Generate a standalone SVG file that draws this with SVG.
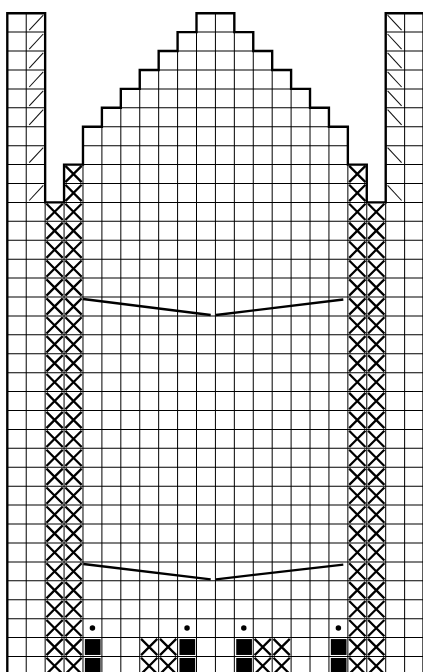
<svg xmlns="http://www.w3.org/2000/svg" xmlns:xlink="http://www.w3.org/1999/xlink" width="423" height="672" viewBox="0 0 423 672">
<style>
.grid{fill:none;stroke:#000;stroke-width:0.053}
.outline{fill:none;stroke:#000;stroke-width:0.125;stroke-linejoin:miter;stroke-linecap:square}
.diag{fill:none;stroke:#111;stroke-width:0.055}
.xs{fill:none;stroke:#000;stroke-width:0.12}
.sq{fill:#000}
.dot{fill:#000}
.conn{fill:none;stroke:#000;stroke-width:2.3;stroke-linecap:butt}
</style>
<defs>
<clipPath id="shapeClip">
<path d="M0,35V0H2V10H3V8H4V6H5V5H6V4H7V3H8V2H9V1H10V0H12V1H13V2H14V3H15V4H16V5H17V6H18V8H19V10H20V0H22V35Z"/>
</clipPath>
<path id="x" d="M0.07,0.07L0.93,0.93M0.93,0.07L0.07,0.93"/>
<path id="fs" d="M0.16,0.9L0.9,0.1"/>
<path id="bs" d="M0.1,0.1L0.84,0.9"/>
</defs>
<rect width="423" height="672" fill="#fff"/>
<g transform="translate(7.3,13.2) scale(18.92)">
<g id="grid" clip-path="url(#shapeClip)">
<path class="grid" d="M1,0V35M2,0V35M3,0V35M4,0V35M5,0V35M6,0V35M7,0V35M8,0V35M9,0V35M10,0V35M11,0V35M12,0V35M13,0V35M14,0V35M15,0V35M16,0V35M17,0V35M18,0V35M19,0V35M20,0V35M21,0V35M0,1H22M0,2H22M0,3H22M0,4H22M0,5H22M0,6H22M0,7H22M0,8H22M0,9H22M0,10H22M0,11H22M0,12H22M0,13H22M0,14H22M0,15H22M0,16H22M0,17H22M0,18H22M0,19H22M0,20H22M0,21H22M0,22H22M0,23H22M0,24H22M0,25H22M0,26H22M0,27H22M0,28H22M0,29H22M0,30H22M0,31H22M0,32H22M0,33H22M0,34H22"/>
</g>
<g id="left-tab-decreases" class="diag">
<use href="#fs" x="1" y="0"/><use href="#fs" x="1" y="1"/><use href="#fs" x="1" y="2"/><use href="#fs" x="1" y="3"/><use href="#fs" x="1" y="4"/><use href="#fs" x="1" y="5"/><use href="#fs" x="1" y="7"/><use href="#fs" x="1" y="9"/>
</g>
<g id="right-tab-decreases" class="diag">
<use href="#bs" x="20" y="0"/><use href="#bs" x="20" y="1"/><use href="#bs" x="20" y="2"/><use href="#bs" x="20" y="3"/><use href="#bs" x="20" y="4"/><use href="#bs" x="20" y="5"/><use href="#bs" x="20" y="7"/><use href="#bs" x="20" y="9"/>
</g>
<g id="left-x-column" class="xs">
<use href="#x" x="2" y="10"/><use href="#x" x="2" y="11"/><use href="#x" x="2" y="12"/><use href="#x" x="2" y="13"/><use href="#x" x="2" y="14"/><use href="#x" x="2" y="15"/><use href="#x" x="2" y="16"/><use href="#x" x="2" y="17"/><use href="#x" x="2" y="18"/><use href="#x" x="2" y="19"/><use href="#x" x="2" y="20"/><use href="#x" x="2" y="21"/><use href="#x" x="2" y="22"/><use href="#x" x="2" y="23"/><use href="#x" x="2" y="24"/><use href="#x" x="2" y="25"/><use href="#x" x="2" y="26"/><use href="#x" x="2" y="27"/><use href="#x" x="2" y="28"/><use href="#x" x="2" y="29"/><use href="#x" x="2" y="30"/><use href="#x" x="2" y="31"/><use href="#x" x="2" y="32"/><use href="#x" x="2" y="33"/><use href="#x" x="2" y="34"/>
<use href="#x" x="3" y="8"/><use href="#x" x="3" y="9"/><use href="#x" x="3" y="10"/><use href="#x" x="3" y="11"/><use href="#x" x="3" y="12"/><use href="#x" x="3" y="13"/><use href="#x" x="3" y="14"/><use href="#x" x="3" y="15"/><use href="#x" x="3" y="16"/><use href="#x" x="3" y="17"/><use href="#x" x="3" y="18"/><use href="#x" x="3" y="19"/><use href="#x" x="3" y="20"/><use href="#x" x="3" y="21"/><use href="#x" x="3" y="22"/><use href="#x" x="3" y="23"/><use href="#x" x="3" y="24"/><use href="#x" x="3" y="25"/><use href="#x" x="3" y="26"/><use href="#x" x="3" y="27"/><use href="#x" x="3" y="28"/><use href="#x" x="3" y="29"/><use href="#x" x="3" y="30"/><use href="#x" x="3" y="31"/><use href="#x" x="3" y="32"/><use href="#x" x="3" y="33"/><use href="#x" x="3" y="34"/>
</g>
<g id="right-x-column" class="xs">
<use href="#x" x="18" y="8"/><use href="#x" x="18" y="9"/><use href="#x" x="18" y="10"/><use href="#x" x="18" y="11"/><use href="#x" x="18" y="12"/><use href="#x" x="18" y="13"/><use href="#x" x="18" y="14"/><use href="#x" x="18" y="15"/><use href="#x" x="18" y="16"/><use href="#x" x="18" y="17"/><use href="#x" x="18" y="18"/><use href="#x" x="18" y="19"/><use href="#x" x="18" y="20"/><use href="#x" x="18" y="21"/><use href="#x" x="18" y="22"/><use href="#x" x="18" y="23"/><use href="#x" x="18" y="24"/><use href="#x" x="18" y="25"/><use href="#x" x="18" y="26"/><use href="#x" x="18" y="27"/><use href="#x" x="18" y="28"/><use href="#x" x="18" y="29"/><use href="#x" x="18" y="30"/><use href="#x" x="18" y="31"/><use href="#x" x="18" y="32"/><use href="#x" x="18" y="33"/><use href="#x" x="18" y="34"/>
<use href="#x" x="19" y="10"/><use href="#x" x="19" y="11"/><use href="#x" x="19" y="12"/><use href="#x" x="19" y="13"/><use href="#x" x="19" y="14"/><use href="#x" x="19" y="15"/><use href="#x" x="19" y="16"/><use href="#x" x="19" y="17"/><use href="#x" x="19" y="18"/><use href="#x" x="19" y="19"/><use href="#x" x="19" y="20"/><use href="#x" x="19" y="21"/><use href="#x" x="19" y="22"/><use href="#x" x="19" y="23"/><use href="#x" x="19" y="24"/><use href="#x" x="19" y="25"/><use href="#x" x="19" y="26"/><use href="#x" x="19" y="27"/><use href="#x" x="19" y="28"/><use href="#x" x="19" y="29"/><use href="#x" x="19" y="30"/><use href="#x" x="19" y="31"/><use href="#x" x="19" y="32"/><use href="#x" x="19" y="33"/><use href="#x" x="19" y="34"/>
</g>
<g id="bottom-pattern">
<g class="xs">
<use href="#x" x="7" y="33"/><use href="#x" x="8" y="33"/><use href="#x" x="7" y="34"/><use href="#x" x="8" y="34"/>
<use href="#x" x="13" y="33"/><use href="#x" x="14" y="33"/><use href="#x" x="13" y="34"/><use href="#x" x="14" y="34"/>
</g>
<rect class="sq" x="4.1" y="33.08" width="0.83" height="0.84"/><rect class="sq" x="4.1" y="34.08" width="0.83" height="0.84"/>
<rect class="sq" x="9.1" y="33.08" width="0.83" height="0.84"/><rect class="sq" x="9.1" y="34.08" width="0.83" height="0.84"/>
<rect class="sq" x="12.1" y="33.08" width="0.83" height="0.84"/><rect class="sq" x="12.1" y="34.08" width="0.83" height="0.84"/>
<rect class="sq" x="17.1" y="33.08" width="0.83" height="0.84"/><rect class="sq" x="17.1" y="34.08" width="0.83" height="0.84"/>
<circle class="dot" cx="4.5" cy="32.5" r="0.145"/><circle class="dot" cx="9.5" cy="32.5" r="0.145"/><circle class="dot" cx="12.5" cy="32.5" r="0.145"/><circle class="dot" cx="17.5" cy="32.5" r="0.145"/>
</g>
<g id="outline">
<path class="outline" d="M0,36V0H2V10H3V8H4V6H5V5H6V4H7V3H8V2H9V1H10V0H12V1H13V2H14V3H15V4H16V5H17V6H18V8H19V10H20V0H22V36"/>
</g>
</g>
<g id="connectors" class="conn">
<path d="M83,299L210.7,315"/>
<path d="M216,315L343.3,299.5"/>
<path d="M83.3,564L210.7,579.3"/>
<path d="M216,579.3L343.3,564.7"/>
</g>
</svg>
